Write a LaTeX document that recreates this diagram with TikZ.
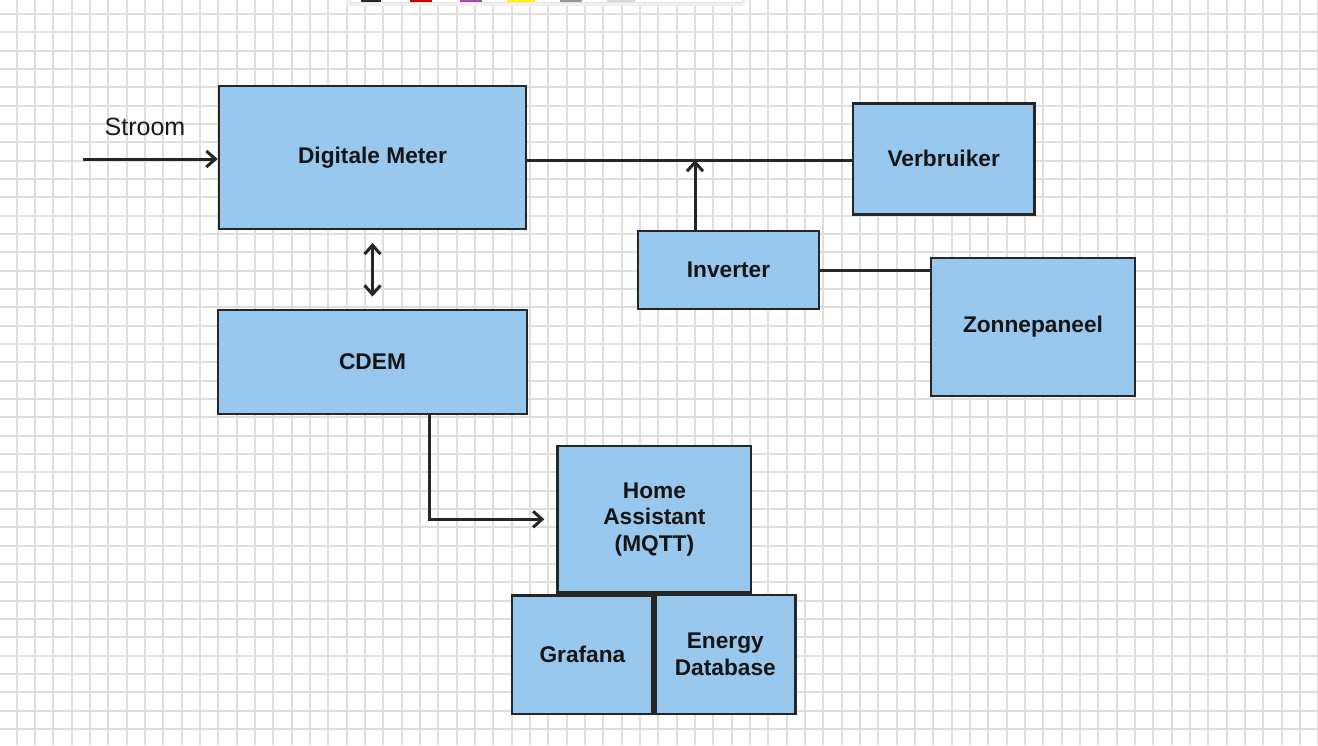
\documentclass[tikz,border=0pt]{standalone}
\usepackage{fontspec}
\setmainfont{Liberation Sans}
\usetikzlibrary{arrows.meta}
\definecolor{boxfill}{RGB}{153,200,238}
\definecolor{ink}{RGB}{38,38,38}
\definecolor{gridc}{RGB}{222,222,222}
\tikzset{
  blockbox/.style={draw=ink, fill=boxfill, line width=2.8pt, rectangle, inner sep=0pt,
    align=center, text=black!92, font=\fontsize{22.7}{26.5}\selectfont\bfseries},
  conn/.style={draw=ink, line width=3pt},
  tip/.style={-{Straight Barb[length=9pt,width=16pt]}},
  tips/.style={{Straight Barb[length=9pt,width=16pt]}-{Straight Barb[length=9pt,width=16pt]}},
  gridline/.style={draw=gridc, line width=2pt},
}
\begin{document}
\begin{tikzpicture}[x=1pt,y=-1pt]
\useasboundingbox (0,0) rectangle (1318,745);
\fill[white] (0,0) rectangle (1318,745);
% grid
\foreach \i in {0,...,71} {\draw[gridline] ({16.7+18.333*\i},0) -- ({16.7+18.333*\i},745);}
\foreach \j in {0,...,39} {\draw[gridline] (0,{14+18.333*\j}) -- (1318,{14+18.333*\j});}
% toolbar remnant at top
\fill[black!12] (348,-20) rectangle (744,4);
\fill[black!6] (346,-20) rectangle (746,6);
\fill[white, draw=black!10] (350,-20) rectangle (742,2);
\fill[black!85] (361,-3) rectangle (381,1.5);
\fill[red!80!black] (410,-3) rectangle (432,1.5);
\fill[violet!70] (460,-3) rectangle (482,1.5);
\fill[yellow] (507,-3) rectangle (535,1.5);
\fill[black!40] (560,-3) rectangle (582,1.5);
\fill[black!15] (607,-3) rectangle (635,1.5);
% boxes
\node[blockbox, minimum width=307pt, minimum height=143pt] (dm) at (372.5,157.5) {Digitale Meter};
\node[blockbox, minimum width=181.5pt, minimum height=111pt] (verb) at (943.7,158.8) {Verbruiker};
\node[blockbox, minimum width=181pt, minimum height=78pt] (inv) at (728.5,270) {Inverter};
\node[blockbox, minimum width=204pt, minimum height=138pt] (zon) at (1033,327) {Zonnepaneel};
\node[blockbox, minimum width=309pt, minimum height=104pt] (cdem) at (372.5,362) {CDEM};
\node[blockbox, minimum width=193.3pt, minimum height=146.7pt] (ha) at (654.4,519.3) {Home\\Assistant\\(MQTT)};
\node[blockbox, minimum width=140.7pt, minimum height=118.7pt] (graf) at (582.4,654.7) {Grafana};
\node[blockbox, minimum width=140pt, minimum height=119pt] (edb) at (725.3,654.5) {Energy\\Database};
% label
\node[font=\fontsize{25}{28}\selectfont, text=black!90] (stroomlbl) at (145,127) {Stroom};
% connectors
\coordinate (s0) at (83,159);
\draw[conn, tip] (s0) -- (s0 -| dm.west);
\coordinate (j) at (695,160);
\draw[conn] (j -| dm.east) -- (j -| verb.west);
\draw[conn, tip] (inv.north -| j) -- (j);
\draw[conn] (inv.east) -- (inv.east -| zon.west);
\draw[conn, tips, shorten <=12.5pt, shorten >=12pt] (dm.south) -- (cdem.north);
\coordinate (c1) at (429,414);
\draw[conn, tip] (c1) |- ([xshift=-12pt]ha.west);
\end{tikzpicture}
\end{document}
